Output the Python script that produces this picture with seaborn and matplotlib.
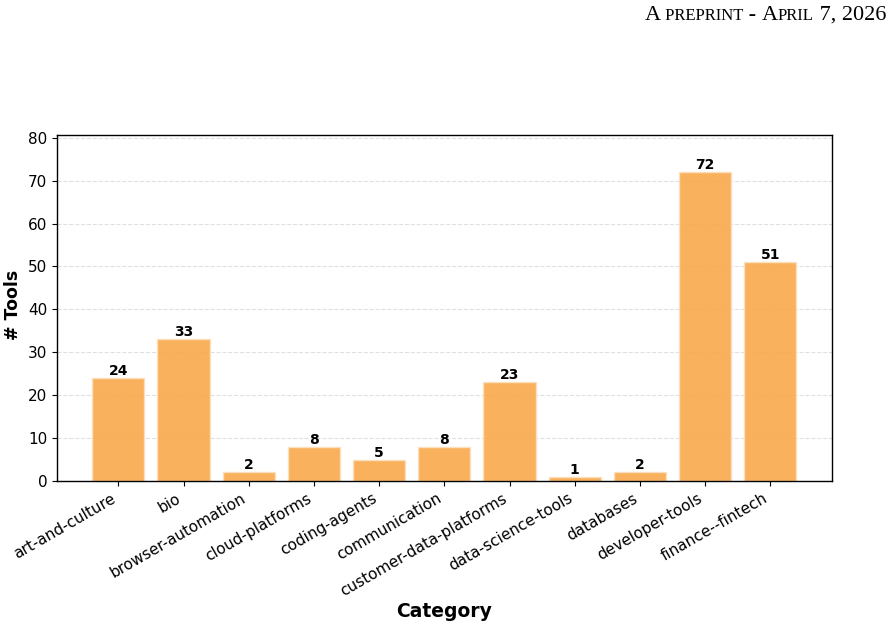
import matplotlib
matplotlib.use("Agg")
import matplotlib.pyplot as plt
import seaborn as sns
import pandas as pd

categories = ["art-and-culture", "bio", "browser-automation", "cloud-platforms",
              "coding-agents", "communication", "customer-data-platforms",
              "data-science-tools", "databases", "developer-tools", "finance--fintech"]
counts = [24, 33, 2, 8, 5, 8, 23, 1, 2, 72, 51]

header_parts = [("A", 16), (" PREPRINT", 12), (" - ", 16), ("A", 16), ("PRIL", 12), (" 7, 2026", 16)]

df = pd.DataFrame({"Category": categories, "Tools": counts})

fig = plt.figure(figsize=(8.92, 6.28), dpi=100)
ax = fig.add_axes([0.0639, 0.234, 0.8685, 0.551])

sns.barplot(data=df, x="Category", y="Tools", color="#F9A94B", saturation=1,
            width=0.8, alpha=0.9, edgecolor="#FCE0BE", linewidth=1, ax=ax)

for i, v in enumerate(counts):
    ax.text(i, v, str(v), ha="center", va="bottom", fontsize=10, fontweight="bold")

ax.set_xlim(-0.94, len(categories) - 1 + 0.94)
ax.set_ylim(0, max(counts) * 1.12)
ax.yaxis.grid(True, linestyle="--", color="#cccccc", alpha=0.6, linewidth=0.8)
ax.set_axisbelow(True)
ax.set_ylabel("# Tools", fontsize=12.5, fontweight="bold")
ax.set_xlabel("Category", fontsize=13.5, fontweight="bold")
ax.tick_params(axis="both", labelsize=11)
plt.setp(ax.get_xticklabels(), rotation=30, ha="right")
ax.yaxis.set_label_coords(-0.045, 0.51)
ax.xaxis.set_label_coords(0.5, -0.35)
for s in ax.spines.values():
    s.set_color("black")
    s.set_linewidth(1)

# header in small caps, right-aligned
fig.canvas.draw()
renderer = fig.canvas.get_renderer()
texts = []
x = 0
y = 628 - 20
for txt, sz in header_parts:
    t = fig.text(x / 892, y / 628, txt, fontsize=sz, family="Liberation Serif",
                 ha="left", va="baseline")
    bb = t.get_window_extent(renderer=renderer)
    texts.append((t, bb.width))
    x = bb.x1
total = x
x = 886 - total
for t, w in texts:
    t.set_x(x / 892)
    x += w

fig.savefig("out.png", dpi=100)
